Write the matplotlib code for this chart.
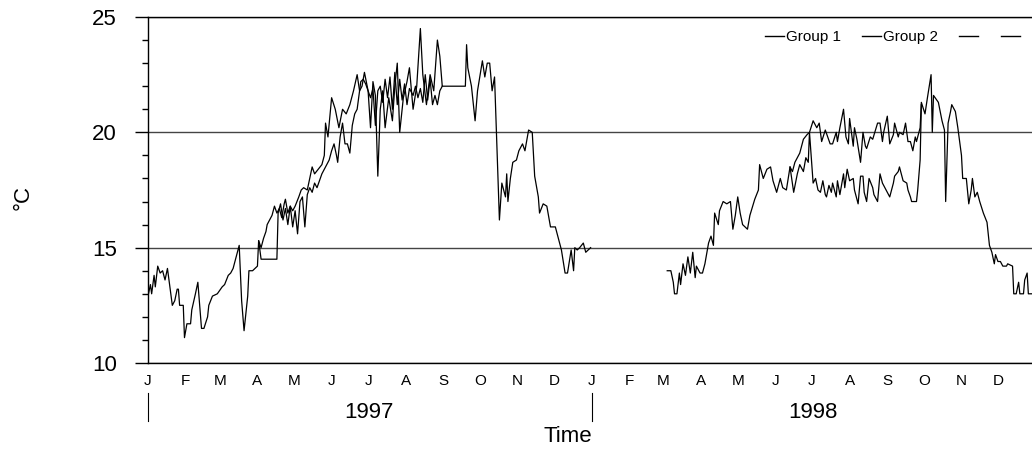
import numpy as np
import matplotlib
matplotlib.use('Agg')
import matplotlib.pyplot as plt
import matplotlib.dates as mdates
from matplotlib.lines import Line2D
from matplotlib.ticker import MultipleLocator, FuncFormatter

plt.rcParams['font.family'] = ['Liberation Sans', 'DejaVu Sans']

# day offsets from 1 Jan 1997, temperatures in degC
g1_days_97 = [0, 2, 3, 5, 6, 8, 10, 12, 14, 16, 18, 20, 22, 24, 25, 26, 29, 30, 32, 35, 36,
              39, 41, 44, 46, 49, 50, 53, 57, 61, 63, 66, 68, 70, 73, 75, 77, 79, 82, 83,
              86, 90, 91, 93, 95, 97, 98, 100, 102, 104, 106, 108, 110, 112, 113, 115, 117,
              119, 121, 124, 126, 128, 131, 133, 135, 137, 140, 143, 145, 146, 148, 151,
              154, 157, 160, 163, 166, 169, 172, 174, 176, 178, 181, 183, 185, 187, 189,
              191, 193, 195, 198, 201, 203, 205, 207, 210, 213, 215, 218, 221, 224, 226,
              229, 232, 235, 238, 240, 242, 261, 262, 263, 266, 269, 271, 275, 277, 279,
              281, 283, 285, 289, 291, 294, 295, 296, 298, 300, 303, 305, 308, 310, 313,
              316, 318, 321, 322, 325, 328, 331, 335, 337, 340, 343, 345, 348, 350, 351,
              353, 355, 358, 360, 362, 364]
g1_vals_97 = [12.9, 13.4, 13.0, 13.8, 13.3, 14.2, 13.9, 14.0, 13.6, 14.1, 13.3, 12.5, 12.7,
              13.2, 13.2, 12.5, 12.5, 11.1, 11.7, 11.7, 12.3, 13.0, 13.5, 11.5, 11.5, 12.0,
              12.5, 12.9, 13.0, 13.3, 13.4, 13.8, 13.9, 14.1, 14.7, 15.1, 12.7, 11.4, 12.9,
              14.0, 14.0, 14.2, 15.3, 15.0, 15.4, 15.7, 16.0, 16.2, 16.4, 16.8, 16.5, 16.7,
              16.3, 16.9, 17.1, 16.5, 16.8, 16.6, 16.8, 17.2, 17.5, 17.6, 17.5, 18.0, 18.5,
              18.2, 18.4, 18.6, 19.0, 20.4, 19.8, 21.5, 21.0, 20.2, 21.0, 20.8, 21.2, 21.8,
              22.5, 21.8, 22.0, 22.6, 21.8, 20.2, 22.2, 21.6, 18.1, 21.0, 21.8, 20.2, 21.5,
              20.5, 22.0, 23.0, 20.0, 21.5, 22.2, 22.8, 21.0, 22.0, 24.5, 22.5, 21.2, 22.5,
              21.8, 24.0, 23.3, 22.0, 22.0, 23.8, 22.8, 22.0, 20.5, 21.8, 23.1, 22.4, 23.0,
              23.0, 21.8, 22.4, 16.2, 17.8, 17.2, 18.2, 17.0, 18.0, 18.7, 18.8, 19.2, 19.5,
              19.2, 20.1, 20.0, 18.1, 17.2, 16.5, 16.9, 16.8, 15.9, 15.9, 15.5, 14.9, 13.9,
              13.9, 14.9, 14.0, 15.0, 14.9, 15.0, 15.2, 14.8, 14.9, 15.0]

g2_days_97 = [91, 93, 100, 106, 107, 109, 111, 113, 115, 117, 119, 121, 123, 125, 127, 129,
              131, 133, 135, 137, 139, 141, 143, 145, 147, 149, 151, 153, 155, 156, 158, 160,
              162, 164, 166, 168, 170, 172, 175, 177, 179, 181, 183, 185, 187, 189, 191, 193,
              195, 197, 199, 201, 203, 205, 207, 209, 211, 213, 215, 218, 220, 222, 224, 226,
              228, 230, 232, 234, 236, 238, 240, 242]
g2_vals_97 = [15.3, 14.5, 14.5, 14.5, 16.5, 16.9, 16.2, 16.7, 16.0, 16.8, 15.9, 16.6, 15.6,
              17.0, 17.2, 15.9, 17.3, 17.6, 17.4, 17.8, 17.6, 17.9, 18.2, 18.4, 18.6, 18.8,
              19.2, 19.5, 19.0, 18.7, 19.8, 20.4, 19.5, 19.5, 19.1, 20.3, 20.8, 21.0, 22.2,
              22.3, 22.1, 21.8, 21.5, 21.9, 20.3, 21.8, 22.0, 21.3, 22.3, 21.5, 22.4, 21.0,
              22.6, 21.2, 22.3, 21.4, 22.1, 21.2, 21.9, 21.6, 22.0, 21.5, 21.9, 21.3, 22.5,
              21.4, 22.3, 21.2, 21.6, 21.2, 21.8, 22.0]

g1_days_98 = [427, 430, 432, 433, 435, 437, 438, 440, 442, 444, 446, 448, 450, 451, 454, 456,
              458, 461, 463, 465, 466, 469, 470, 473, 476, 479, 481, 483, 485, 487, 489, 493,
              495, 499, 502, 503, 506, 509, 512, 514, 517, 520, 522, 525, 528, 530, 532, 536,
              539, 542, 544, 547, 549, 550, 552, 554, 557, 559, 561, 563, 566, 567, 569, 572,
              574, 576, 577, 580, 581, 583, 586, 588, 590, 591, 594, 596, 600, 602, 604, 605,
              608, 610, 613, 614, 617, 618, 621, 623, 625, 627, 629, 631, 632, 635, 636, 639,
              641, 644, 645, 646, 650, 653, 655, 656, 658, 660, 661, 664, 666, 669, 670, 673,
              675, 677, 678, 680, 682, 684, 687, 690, 692, 694, 696, 697, 699, 701, 703, 706,
              707, 711, 712, 714, 716, 717, 720, 721, 723, 724, 727]
g1_vals_98 = [14.0, 14.0, 13.5, 13.0, 13.0, 13.9, 13.4, 14.3, 13.8, 14.6, 13.9, 14.8, 13.7,
              14.2, 13.9, 13.9, 14.3, 15.2, 15.5, 15.1, 16.5, 16.0, 16.6, 17.0, 16.9, 17.0,
              15.8, 16.4, 17.2, 16.5, 16.0, 15.8, 16.4, 17.1, 17.5, 18.6, 18.0, 18.4, 18.5,
              17.9, 17.4, 18.0, 17.6, 17.5, 18.5, 18.3, 18.7, 19.1, 19.7, 19.9, 20.0, 20.5,
              20.3, 20.2, 20.4, 19.6, 20.1, 19.8, 19.5, 19.5, 20.0, 19.6, 20.2, 21.0, 19.8,
              19.5, 20.6, 19.4, 20.2, 19.7, 18.7, 20.0, 19.4, 19.3, 19.8, 19.7, 20.4, 20.4,
              19.6, 20.0, 20.7, 19.5, 19.9, 20.4, 19.8, 20.0, 19.9, 20.4, 19.6, 19.6, 19.2,
              19.8, 19.6, 20.2, 21.3, 20.8, 21.5, 22.5, 20.0, 21.6, 21.3, 20.5, 20.1, 17.0,
              20.4, 20.9, 21.2, 20.9, 20.2, 19.0, 18.0, 18.0, 16.9, 17.5, 18.0, 17.2, 17.4,
              17.0, 16.5, 16.1, 15.1, 14.8, 14.3, 14.7, 14.4, 14.4, 14.2, 14.2, 14.3, 14.2,
              13.0, 13.0, 13.5, 13.0, 13.0, 13.6, 13.9, 13.0, 13.0]

g2_days_98 = [528, 531, 534, 536, 539, 541, 543, 544, 547, 549, 551, 553, 555, 557, 558, 560,
              562, 563, 566, 567, 569, 572, 573, 575, 577, 580, 581, 584, 586, 588, 589, 591,
              593, 596, 597, 600, 602, 604, 606, 609, 610, 613, 614, 617, 618, 621, 624, 625,
              627, 628, 631, 632, 633, 635, 636]
g2_vals_98 = [18.5, 17.4, 18.2, 18.6, 18.3, 18.9, 18.7, 20.0, 17.8, 18.0, 17.5, 17.4, 17.9,
              17.3, 17.2, 17.7, 17.4, 17.8, 17.2, 17.9, 17.3, 18.2, 17.6, 18.4, 17.9, 18.0,
              17.5, 16.9, 18.1, 18.1, 17.4, 17.0, 18.0, 17.6, 17.3, 17.0, 18.2, 17.8, 17.6,
              17.3, 17.2, 17.8, 18.1, 18.3, 18.5, 17.9, 17.8, 17.5, 17.2, 17.0, 17.0, 17.0,
              17.5, 18.8, 21.2]

legend_labels = ['Group 1', 'Group 2', '', '']
years = ['1997', '1998']

start = np.datetime64('1997-01-01')


def to_dates(days):
    return start + np.array(days).astype('timedelta64[D]')


W, H = 1032, 455
fig = plt.figure(figsize=(W / 100, H / 100), dpi=100)
ax = fig.add_axes([148 / W, (H - 363) / H, (W - 148) / W, 346 / H])

lw = 0.9
ax.plot(to_dates(g1_days_97), g1_vals_97, color='black', lw=lw)
ax.plot(to_dates(g1_days_98), g1_vals_98, color='black', lw=lw)
ax.plot(to_dates(g2_days_97), g2_vals_97, color='black', lw=lw)
ax.plot(to_dates(g2_days_98), g2_vals_98, color='black', lw=lw)

ax.set_xlim(start, start + np.timedelta64(727, 'D'))
ax.set_ylim(10, 25)

ax.yaxis.set_major_locator(MultipleLocator(5))
ax.yaxis.set_minor_locator(MultipleLocator(1))
ax.tick_params(axis='y', which='major', direction='out', length=9.4, width=1,
               labelsize=16, pad=13)
ax.tick_params(axis='y', which='minor', direction='out', length=4.3, width=1)
ax.grid(axis='y', which='major', color='#444444', lw=1)

ax.xaxis.set_major_locator(mdates.MonthLocator())
ax.xaxis.set_major_formatter(FuncFormatter(lambda v, p: mdates.num2date(v).strftime('%b')[0]))
ax.tick_params(axis='x', which='major', length=0, labelsize=11, pad=8)

for s in ['left', 'bottom', 'top']:
    ax.spines[s].set_linewidth(1)
ax.spines['right'].set_visible(False)

trans = ax.get_xaxis_transform()
for i, yr in enumerate(years):
    y0 = np.datetime64(yr + '-01-01')
    ax.plot([y0, y0], [-0.087, -0.168], color='black', lw=0.8,
            transform=trans, clip_on=False)
    ax.text(np.datetime64(yr + '-07-02'), -0.142, yr, transform=trans,
            ha='center', va='center', fontsize=16)

fig.text(568 / W, 1 - 437 / H, 'Time', ha='center', va='center', fontsize=16)
fig.text(23 / W, 1 - 198 / H, '°C', rotation=90, ha='center', va='center', fontsize=16)

handles = [Line2D([], [], color='black', lw=1) for _ in legend_labels]
ax.legend(handles, legend_labels, ncol=4, frameon=False, fontsize=11,
          loc='center right', bbox_to_anchor=(1022 / W, 1 - 37 / H),
          bbox_transform=fig.transFigure, handlelength=1.2, handletextpad=0.15,
          columnspacing=1.4, borderaxespad=0, borderpad=0)

fig.savefig('out.png', dpi=100)
